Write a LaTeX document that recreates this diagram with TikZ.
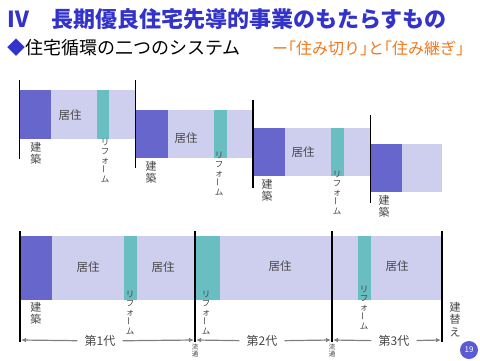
\documentclass[tikz,border=0pt]{standalone}
\usepackage{fontspec}
\setmainfont{Noto Sans CJK JP}
\newfontfamily\jphalt[RawFeature=+halt]{Noto Sans CJK JP}
\usetikzlibrary{arrows.meta}
\definecolor{kenchiku}{RGB}{102,102,204}
\definecolor{kyoju}{RGB}{206,206,238}
\definecolor{reform}{RGB}{104,190,192}
\definecolor{midashi}{RGB}{51,51,204}
\definecolor{orenji}{RGB}{240,120,30}
\definecolor{moji}{RGB}{70,70,70}
\definecolor{yajirushi}{RGB}{128,128,128}
\definecolor{pagecol}{RGB}{90,90,210}
\begin{document}
\begin{tikzpicture}[x=1pt,y=-1pt,
	hashira/.style={line width=1.3pt, black},
	kyojumoji/.style={inner sep=0pt, text=moji, font=\fontsize{11.5}{12}\selectfont},
	tate/.style={anchor=north, align=center, inner sep=0pt, text=moji, font=\fontsize{11}{12.5}\selectfont},
	tatereform/.style={anchor=north, align=center, inner sep=0pt, text=moji, font=\fontsize{8.5}{8.9}\selectfont},
	sedai/.style={inner ysep=0pt, inner xsep=7pt, text=moji, font=\fontsize{12}{12}\selectfont},
	yaji/.style={yajirushi, line width=1.2pt, -{Latex[length=5pt,width=4.5pt]}},
	ryutsu/.style={anchor=north, align=center, inner sep=0pt, text=moji, font=\fontsize{6.5}{7}\selectfont}]
	\useasboundingbox (0,0) rectangle (480,360);
	%midashi
	\node[anchor=west, inner sep=0pt, text=midashi, font=\fontsize{22}{24}\selectfont\bfseries] (midashi) at (7,19) {Ⅳ　長期優良住宅先導的事業のもたらすもの};
	\node[anchor=west, inner sep=0pt, font=\fontsize{18}{20}\selectfont] (fukudai) at (7,48) {{\color{midashi}◆}住宅循環の二つのシステム};
	\node[anchor=west, inner sep=0pt, text=orenji, font=\jphalt\fontsize{16}{18}\selectfont] (sumikiri) at (272,48) {ー「住み切り」と「住み継ぎ」};
	%sumikiri 1
	\fill[kyoju] (20,90) rectangle (135,139);
	\fill[kenchiku] (20,90) rectangle (51,139);
	\fill[reform] (97,90) rectangle (109,139);
	\draw[hashira] (19.5,80) -- (19.5,159);
	\node[kyojumoji] (kyoju1) at (70,115) {居住};
	\node[tate] (kenchiku1) at (36,142) {建\\築};
	\node[tatereform] (reform1) at (105,139) {リ\\フ\\ォ\\\rotatebox{90}{ー}\\ム};
	%sumikiri 2
	\fill[kyoju] (136,110) rectangle (253,158);
	\fill[kenchiku] (136,110) rectangle (168,158);
	\fill[reform] (214,110) rectangle (227,158);
	\draw[hashira] (135.5,80) -- (135.5,168);
	\node[kyojumoji] (kyoju2) at (186,138) {居住};
	\node[tate] (kenchiku2) at (151,161) {建\\築};
	\node[tatereform] (reform2) at (219,152) {リ\\フ\\ォ\\\rotatebox{90}{ー}\\ム};
	%sumikiri 3
	\fill[kyoju] (253,128) rectangle (370,176);
	\fill[kenchiku] (253,128) rectangle (285,176);
	\fill[reform] (331,128) rectangle (344,176);
	\draw[hashira] (253,100) -- (253,188);
	\node[kyojumoji] (kyoju3) at (303,152) {居住};
	\node[tate] (kenchiku3) at (267,179) {建\\築};
	\node[tatereform] (reform3) at (337,171) {リ\\フ\\ォ\\\rotatebox{90}{ー}\\ム};
	%sumikiri 4
	\fill[kyoju] (371,144) rectangle (442,192);
	\fill[kenchiku] (371,144) rectangle (402,192);
	\draw[hashira] (370.5,115) -- (370.5,203);
	\node[tate] (kenchiku4) at (384,195) {建\\築};
	%sumitsugi
	\fill[kyoju] (21,236) rectangle (442,300);
	\fill[kenchiku] (21,236) rectangle (52,300);
	\fill[reform] (124,236) rectangle (137,300);
	\fill[reform] (196,236) rectangle (220,300);
	\fill[reform] (358,236) rectangle (371,300);
	\draw[hashira] (20,231) -- (20,342);
	\draw[hashira] (195,231) -- (195,342);
	\draw[hashira] (332,231) -- (332,342);
	\draw[hashira] (442,231) -- (442,342);
	\node[kyojumoji] (kyoju5) at (88,267) {居住};
	\node[kyojumoji] (kyoju6) at (163,267) {居住};
	\node[kyojumoji] (kyoju7) at (280,266) {居住};
	\node[kyojumoji] (kyoju8) at (397,266) {居住};
	\node[tate] (kenchiku5) at (36,302) {建\\築};
	\node[tatereform] (reform5) at (130,291) {リ\\フ\\ォ\\\rotatebox{90}{ー}\\ム};
	\node[tatereform] (reform6) at (206,291) {リ\\フ\\ォ\\\rotatebox{90}{ー}\\ム};
	\node[tatereform] (reform7) at (364,286) {リ\\フ\\ォ\\\rotatebox{90}{ー}\\ム};
	\node[tate] (tatekae) at (455,302) {建\\替\\え};
	%sedai
	\coordinate (s0) at (21,340);
	\coordinate (s1l) at (194,340);
	\coordinate (s1r) at (196,340);
	\coordinate (s2l) at (331,340);
	\coordinate (s2r) at (333,340);
	\coordinate (s3) at (441,340);
	\node[sedai] (dai1) at (100,341) {第1代};
	\node[sedai] (dai2) at (262,341) {第2代};
	\node[sedai] (dai3) at (394,341) {第3代};
	\draw[yaji] (dai1) -- (s0);
	\draw[yaji] (dai1) -- (s1l);
	\draw[yaji] (dai2) -- (s1r);
	\draw[yaji] (dai2) -- (s2l);
	\draw[yaji] (dai3) -- (s2r);
	\draw[yaji] (dai3) -- (s3);
	\node[ryutsu] (ryutsu1) at (195,344) {流\\通};
	\node[ryutsu] (ryutsu2) at (332,344) {流\\通};
	%page
	\node[circle, fill=pagecol, text=white, minimum size=18pt, inner sep=0pt, font=\fontsize{8}{8}\selectfont] (page) at (469,350) {19};
\end{tikzpicture}
\end{document}
